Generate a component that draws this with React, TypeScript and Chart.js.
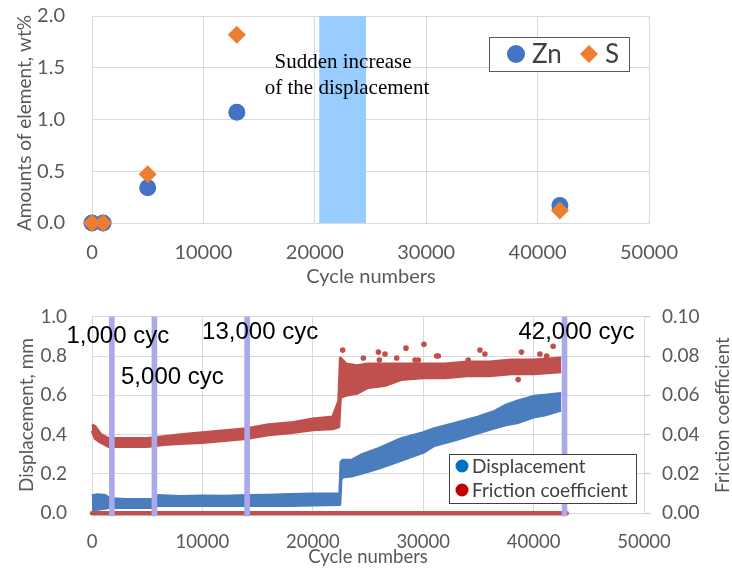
import React, { useEffect, useRef } from "react";
import { Chart, registerables } from "chart.js";

Chart.register(...registerables);

// ---------- Upper panel: element content on the worn surface ----------
const sampleCycles = [0, 1000, 5000, 13000, 42000];
const znAmount = [0, 0, 0.34, 1.07, 0.17];
const sAmount = [0, 0, 0.47, 1.82, 0.12];
// cycle range where the displacement suddenly increases
const jumpRange = [20400, 24600];

// ---------- Lower panel: displacement and friction coefficient ----------
// scatter band of the displacement record (upper / lower edge), mm
const dispCycles = [0, 500, 1200, 1600, 3000, 5500, 6000, 8000, 10000, 12000, 14000, 16000, 18000, 20000, 22450, 22550, 22700, 23500, 24500, 26000, 28000, 30000, 31000, 33000, 35000, 36500, 37500, 38500, 40000, 41000, 42500];
const dispUpper = [0.09, 0.095, 0.09, 0.075, 0.07, 0.072, 0.09, 0.085, 0.088, 0.087, 0.09, 0.092, 0.095, 0.098, 0.1, 0.26, 0.27, 0.27, 0.3, 0.33, 0.38, 0.41, 0.43, 0.46, 0.49, 0.52, 0.55, 0.57, 0.595, 0.6, 0.61];
const dispLower = [0.015, 0.02, 0.025, 0.03, 0.03, 0.03, 0.04, 0.04, 0.04, 0.04, 0.04, 0.04, 0.04, 0.042, 0.045, 0.17, 0.185, 0.19, 0.205, 0.23, 0.27, 0.31, 0.345, 0.375, 0.41, 0.435, 0.45, 0.46, 0.49, 0.5, 0.525];

// scatter band of the friction coefficient record (upper / lower edge)
const fricCycles = [0, 300, 800, 1500, 3000, 5000, 6500, 8000, 10000, 12000, 14000, 16000, 18000, 20000, 21800, 22350, 22500, 23000, 24000, 25000, 26500, 28000, 30000, 32000, 34000, 36000, 38000, 40000, 42500];
const fricUpper = [0.045, 0.044, 0.04, 0.038, 0.038, 0.038, 0.039, 0.04, 0.041, 0.042, 0.043, 0.045, 0.046, 0.048, 0.049, 0.057, 0.079, 0.076, 0.075, 0.076, 0.076, 0.076, 0.076, 0.076, 0.077, 0.077, 0.078, 0.078, 0.079];
const fricLower = [0.042, 0.038, 0.036, 0.034, 0.034, 0.034, 0.035, 0.0355, 0.036, 0.037, 0.038, 0.04, 0.041, 0.0425, 0.043, 0.044, 0.059, 0.06, 0.061, 0.064, 0.065, 0.068, 0.069, 0.069, 0.07, 0.07, 0.071, 0.071, 0.072];

// isolated friction readings outside the band
const fricSpikeCycles = [22710, 24580, 25940, 26030, 26540, 27600, 28440, 29260, 29560, 30070, 31220, 31370, 34080, 35140, 35590, 38600, 38900, 40570, 41180, 41770];
const fricSpikeValues = [0.083, 0.079, 0.082, 0.078, 0.081, 0.079, 0.084, 0.078, 0.078, 0.086, 0.08, 0.08, 0.078, 0.083, 0.081, 0.068, 0.082, 0.081, 0.08, 0.085];

// baseline trace of the friction channel
const baselineCycles = [0, 43000];
const baselineValues = [0, 0];

// cycles at which the surface was analysed
const markerCycles = [1800, 5650, 14050, 42800];
const markerLabels = ["1,000 cyc", "5,000 cyc", "13,000 cyc", "42,000 cyc"];

// ---------- styling ----------
const W = 732;
const TOP_H = 290;
const BOT_H = 279;
const GRID = "#d9d9d9";
const TICK = "#595959";
const SANS = "Lato";

const ZN_COLOR = "#4472c4";
const S_COLOR = "#ed7d31";
const DISP_COLOR = "#4a7dbd";
const FRIC_COLOR = "#c0504d";

const pts = (xs: number[], ys: number[]) => xs.map((x, i) => ({ x, y: ys[i] }));

const tickFont = (size: number) => ({ family: SANS, size });

function drawRotatedTitle(ctx: CanvasRenderingContext2D, text: string, x: number, y: number, size: number) {
  ctx.save();
  ctx.translate(x, y);
  ctx.rotate(-Math.PI / 2);
  ctx.font = `${size}px ${SANS}`;
  ctx.fillStyle = TICK;
  ctx.textAlign = "center";
  ctx.textBaseline = "middle";
  ctx.fillText(text, 0, 0);
  ctx.restore();
}

function drawTitle(ctx: CanvasRenderingContext2D, text: string, x: number, y: number, size: number) {
  ctx.save();
  ctx.font = `${size}px ${SANS}`;
  ctx.fillStyle = TICK;
  ctx.textAlign = "center";
  ctx.textBaseline = "middle";
  ctx.fillText(text, x, y);
  ctx.restore();
}

// fixed axis box sizes, without extra room for the end tick labels
const fixWidth = (w: number) => (s: any) => {
  s.width = w;
  s.paddingTop = 0;
  s.paddingBottom = 0;
};
const fixHeight = (h: number) => (s: any) => {
  s.height = h;
  s.paddingLeft = 0;
  s.paddingRight = 0;
};

// ---------- upper panel plugins ----------
const jumpBandPlugin = {
  id: "jumpBand",
  beforeDatasetsDraw(chart: any) {
    const { ctx, chartArea, scales } = chart;
    const x0 = scales.x.getPixelForValue(jumpRange[0]);
    const x1 = scales.x.getPixelForValue(jumpRange[1]);
    ctx.save();
    ctx.fillStyle = "#99ccff";
    ctx.fillRect(x0, chartArea.top, x1 - x0, chartArea.bottom - chartArea.top);
    ctx.restore();
  },
};

const upperDecorPlugin = {
  id: "upperDecor",
  afterDatasetsDraw(chart: any) {
    const { ctx } = chart;
    ctx.save();
    ctx.font = '21px "Liberation Serif"';
    ctx.fillStyle = "#000";
    ctx.textBaseline = "middle";
    ctx.textAlign = "center";
    ctx.fillText("Sudden increase", 343, 62);
    ctx.fillText("of the displacement", 347, 88);
    ctx.restore();
  },
  afterDraw(chart: any) {
    const { ctx } = chart;
    // axis titles
    drawRotatedTitle(ctx, "Amounts of element, wt%", 25, 123, 19);
    drawTitle(ctx, "Cycle numbers", 371, 277, 20);

    // legend
    ctx.save();
    ctx.fillStyle = "#fff";
    ctx.fillRect(489, 37, 140, 34);
    ctx.strokeStyle = "#595959";
    ctx.lineWidth = 1;
    ctx.strokeRect(489.5, 37.5, 140, 34);
    ctx.fillStyle = ZN_COLOR;
    ctx.beginPath();
    ctx.arc(516, 54, 9, 0, Math.PI * 2);
    ctx.fill();
    ctx.fillStyle = S_COLOR;
    ctx.beginPath();
    ctx.moveTo(589, 45);
    ctx.lineTo(598, 54);
    ctx.lineTo(589, 63);
    ctx.lineTo(580, 54);
    ctx.closePath();
    ctx.fill();
    ctx.font = `26px ${SANS}`;
    ctx.fillStyle = "#404040";
    ctx.textBaseline = "middle";
    ctx.textAlign = "left";
    ctx.fillText("Zn", 532, 55);
    ctx.fillText("S", 605, 55);
    ctx.restore();
  },
};

// ---------- lower panel plugins ----------
// label centre offsets relative to each marker line (px)
const markerLabelOffsets = [
  { dx: 6, y: 46 },
  { dx: 18, y: 87 },
  { dx: 13, y: 42 },
  { dx: 12, y: 42 },
];

const markerPlugin = {
  id: "cycleMarkers",
  afterDatasetsDraw(chart: any) {
    const { ctx, chartArea, scales } = chart;
    ctx.save();
    ctx.fillStyle = "#a9a9ec";
    markerCycles.forEach((c) => {
      const px = scales.x.getPixelForValue(c);
      ctx.fillRect(px - 2.8, chartArea.top, 5.6, chartArea.bottom - chartArea.top + 3);
    });
    ctx.font = '24px "Liberation Sans"';
    ctx.fillStyle = "#000";
    ctx.textAlign = "center";
    ctx.textBaseline = "middle";
    markerCycles.forEach((c, i) => {
      const px = scales.x.getPixelForValue(c);
      const o = markerLabelOffsets[i];
      ctx.fillText(markerLabels[i], px + o.dx, o.y);
    });
    ctx.restore();
  },
  afterDraw(chart: any) {
    const { ctx } = chart;
    drawRotatedTitle(ctx, "Displacement, mm", 27, 125, 19);
    drawRotatedTitle(ctx, "Friction coefficient", 723, 125, 19);
    drawTitle(ctx, "Cycle numbers", 368, 267, 18.5);

    // legend
    ctx.save();
    ctx.fillStyle = "#fff";
    ctx.fillRect(449, 164, 187, 49);
    ctx.strokeStyle = "#404040";
    ctx.lineWidth = 1;
    ctx.strokeRect(449.5, 164.5, 187, 49);
    const rows = [
      { label: "Displacement", color: "#0070c0", y: 176 },
      { label: "Friction coefficient", color: "#c00000", y: 200 },
    ];
    ctx.font = `19px ${SANS}`;
    ctx.textAlign = "left";
    ctx.textBaseline = "middle";
    rows.forEach((r) => {
      ctx.fillStyle = r.color;
      ctx.beginPath();
      ctx.arc(462, r.y, 6.5, 0, Math.PI * 2);
      ctx.fill();
      ctx.fillStyle = "#404040";
      ctx.fillText(r.label, 472, r.y + 1);
    });
    ctx.restore();
  },
};

function upperConfig(): any {
  return {
    type: "scatter",
    data: {
      datasets: [
        {
          label: "Zn",
          data: pts(sampleCycles, znAmount),
          pointStyle: "circle",
          pointRadius: 8.5,
          backgroundColor: ZN_COLOR,
          borderColor: ZN_COLOR,
          borderWidth: 0,
          order: 2,
          clip: false,
        },
        {
          label: "S",
          data: pts(sampleCycles, sAmount),
          pointStyle: "rectRot",
          pointRadius: 9,
          backgroundColor: S_COLOR,
          borderColor: S_COLOR,
          borderWidth: 0,
          order: 1,
          clip: false,
        },
      ],
    },
    options: {
      animation: false,
      responsive: false,
      devicePixelRatio: 1,
      events: [],
      layout: { padding: { left: 0, right: W - 649, top: 16, bottom: 0 } },
      plugins: { legend: { display: false }, tooltip: { enabled: false } },
      scales: {
        x: {
          type: "linear",
          min: 0,
          max: 50000,
          ticks: {
            stepSize: 10000,
            font: tickFont(20),
            color: TICK,
            padding: 18,
            maxRotation: 0,
            callback: (v: any) => String(v),
          },
          grid: { color: GRID, drawTicks: false },
          border: { color: GRID },
          afterFit: fixHeight(TOP_H - 223),
        },
        y: {
          min: 0,
          max: 2,
          ticks: {
            stepSize: 0.5,
            font: tickFont(20),
            color: TICK,
            padding: 27,
            callback: (v: any) => Number(v).toFixed(1),
          },
          grid: { color: GRID, drawTicks: false },
          border: { color: GRID },
          afterFit: fixWidth(92),
        },
      },
    },
    plugins: [jumpBandPlugin, upperDecorPlugin],
  };
}

function band(label: string, xs: number[], ys: number[], color: string, axis: string, fill: any, order: number) {
  return {
    label,
    data: pts(xs, ys),
    showLine: true,
    borderColor: color,
    backgroundColor: color,
    borderWidth: 3,
    borderJoinStyle: "round",
    pointRadius: 0,
    fill,
    yAxisID: axis,
    order,
    clip: false,
  };
}

function lowerConfig(): any {
  return {
    type: "scatter",
    data: {
      datasets: [
        band("Displacement upper", dispCycles, dispUpper, DISP_COLOR, "y", "+1", 5),
        band("Displacement lower", dispCycles, dispLower, DISP_COLOR, "y", false, 5),
        band("Friction coefficient upper", fricCycles, fricUpper, FRIC_COLOR, "y2", "+1", 4),
        band("Friction coefficient lower", fricCycles, fricLower, FRIC_COLOR, "y2", false, 4),
        {
          label: "Friction coefficient spikes",
          data: pts(fricSpikeCycles, fricSpikeValues),
          pointRadius: 2.8,
          backgroundColor: FRIC_COLOR,
          borderWidth: 0,
          yAxisID: "y2",
          order: 3,
        },
        {
          label: "Friction baseline",
          data: pts(baselineCycles, baselineValues),
          showLine: true,
          borderColor: FRIC_COLOR,
          borderWidth: 4.5,
          borderCapStyle: "round",
          pointRadius: 0,
          yAxisID: "y2",
          order: 1,
          clip: false,
        },
      ],
    },
    options: {
      animation: false,
      responsive: false,
      devicePixelRatio: 1,
      events: [],
      layout: { padding: { left: 0, right: 0, top: 26.7, bottom: 0 } },
      plugins: { legend: { display: false }, tooltip: { enabled: false } },
      scales: {
        x: {
          type: "linear",
          min: 0,
          max: 50000,
          ticks: {
            stepSize: 10000,
            font: tickFont(18.5),
            color: TICK,
            padding: 18,
            maxRotation: 0,
            callback: (v: any) => String(v),
          },
          grid: { color: GRID, drawTicks: false },
          border: { color: GRID },
          afterFit: fixHeight(BOT_H - 223.3),
        },
        y: {
          position: "left",
          min: 0,
          max: 1,
          ticks: {
            stepSize: 0.2,
            font: tickFont(19),
            color: TICK,
            padding: 25,
            callback: (v: any) => Number(v).toFixed(1),
          },
          grid: { color: GRID, drawTicks: false },
          border: { color: GRID },
          afterFit: fixWidth(92),
        },
        y2: {
          position: "right",
          min: 0,
          max: 0.1,
          ticks: {
            stepSize: 0.02,
            font: tickFont(19),
            color: TICK,
            padding: 12,
            callback: (v: any) => Number(v).toFixed(2),
          },
          grid: { color: "#bfbfbf", drawOnChartArea: false, drawTicks: true, tickLength: 6 },
          border: { color: GRID },
          afterFit: fixWidth(W - 644),
        },
      },
    },
    plugins: [markerPlugin],
  };
}

export default function App() {
  const upperRef = useRef<HTMLCanvasElement>(null);
  const lowerRef = useRef<HTMLCanvasElement>(null);

  useEffect(() => {
    const upper = new Chart(upperRef.current as HTMLCanvasElement, upperConfig());
    const lower = new Chart(lowerRef.current as HTMLCanvasElement, lowerConfig());
    return () => {
      upper.destroy();
      lower.destroy();
    };
  }, []);

  return (
    <div style={{ position: "absolute", left: 0, top: 0, width: W, height: TOP_H + BOT_H, background: "#fff" }}>
      <canvas ref={upperRef} width={W} height={TOP_H} style={{ position: "absolute", left: 0, top: 0 }} />
      <canvas ref={lowerRef} width={W} height={BOT_H} style={{ position: "absolute", left: 0, top: TOP_H }} />
    </div>
  );
}
